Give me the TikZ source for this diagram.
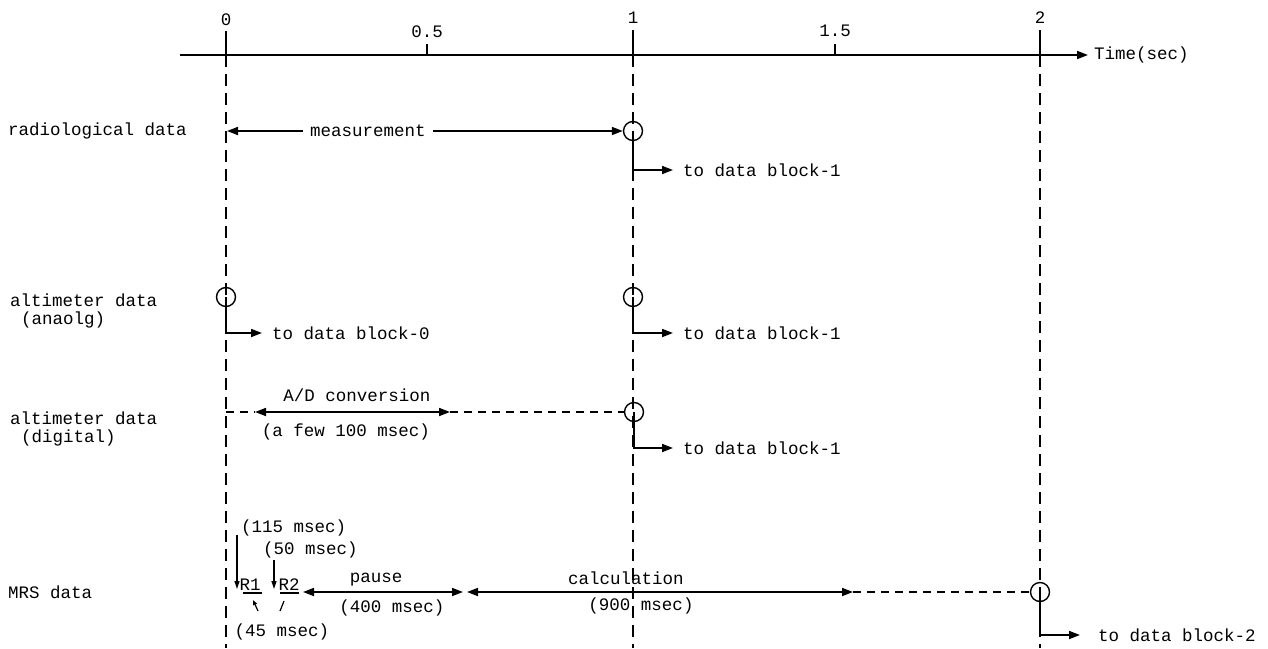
\documentclass[tikz,border=0pt]{standalone}
\usepackage{fontspec}
\setmainfont{Liberation Mono}
\usetikzlibrary{arrows.meta,calc}
\begin{document}
\begin{tikzpicture}[x=1pt,y=-1pt,
  txt/.style={font=\fontsize{17.5}{20}\selectfont, inner sep=0pt},
  ln/.style={line width=1.7pt},
  thinln/.style={line width=1.3pt},
  gridline/.style={line width=1.6pt, dash pattern=on 12pt off 7pt},
  hdash/.style={line width=1.6pt, dash pattern=on 8pt off 6pt},
  tip/.style={-{Triangle[length=11pt,width=8pt]}},
  smalltip/.style={-{Triangle[length=8pt,width=5pt]}},
  both/.style={{Triangle[length=11pt,width=8pt]}-{Triangle[length=11pt,width=8pt]}},
  probe/.style={circle, draw, line width=1.4pt, minimum size=19pt, inner sep=0pt}]
\useasboundingbox (0,0) rectangle (1268,648);

% time axis
\coordinate (axS) at (180,55);
\coordinate (axE) at (1088,55);
\draw[ln,tip] (axS) -- (axE);
\node[txt,anchor=west] (tlab) at (1094,55) {Time(sec)};

% ticks and scale labels
\node[txt] (l0)  at (226,20) {0};
\node[txt] (l05) at (427,32) {0.5};
\node[txt] (l1)  at (633,18) {1};
\node[txt] (l15) at (835,31) {1.5};
\node[txt] (l2)  at (1040,18) {2};
\coordinate (k0) at (226,55);
\coordinate (k05) at (427,55);
\coordinate (k1) at (633,55);
\coordinate (k15) at (835,55);
\coordinate (k2) at (1040,55);
\draw[ln] (k0) -- ++(0,-24);
\draw[ln] (k05) -- ++(0,-11);
\draw[ln] (k1) -- ++(0,-25);
\draw[ln] (k15) -- ++(0,-11);
\draw[ln] (k2) -- ++(0,-25);

% time grid lines
\coordinate (b0) at (226,648);
\coordinate (b1) at (633,648);
\coordinate (b2) at (1040,648);
\draw[gridline] (k0) -- (b0);
\draw[gridline] (k1) -- (b1);
\draw[gridline] (k2) -- (b2);

% row labels
\node[txt,anchor=west] (rrad) at (8,131) {radiological data};
\node[txt,anchor=west] (ran1) at (10,300) {altimeter data};
\node[txt,anchor=west] (ran2) at (21,320) {(anaolg)};
\node[txt,anchor=west] (rdg1) at (10,418) {altimeter data};
\node[txt,anchor=west] (rdg2) at (21,438) {(digital)};
\node[txt,anchor=west] (rmrs) at (8,592) {MRS data};

% sampling points
\node[probe] (crad) at (633,131) {};
\node[probe] (can0) at (226,297) {};
\node[probe] (can1) at (633,297) {};
\node[probe] (cdig) at (634,412) {};
\node[probe] (cmrs) at (1040,592) {};

% transfers to data blocks
\node[txt,anchor=west] (brad) at (683,170) {to data block-1};
\node[txt,anchor=west] (ban0) at (272,333) {to data block-0};
\node[txt,anchor=west] (ban1) at (683,333) {to data block-1};
\node[txt,anchor=west] (bdig) at (683,448) {to data block-1};
\node[txt,anchor=west] (bmrs) at (1098,635) {to data block-2};
\draw[ln,tip] (crad.center) |- ([xshift=-10pt]brad.west);
\draw[ln,tip] (can0.center) |- ([xshift=-10pt]ban0.west);
\draw[ln,tip] (can1.center) |- ([xshift=-10pt]ban1.west);
\draw[ln,tip] (cdig.center) |- ([xshift=-10pt]bdig.west);
\draw[ln,tip] (cmrs.center) |- ([xshift=-18pt]bmrs.west);

% radiological measurement
\node[txt] (meas) at (368,131) {measurement};
\coordinate (r0) at (227,131);
\draw[ln,tip] ([xshift=-7pt]meas.west) -- (r0);
\draw[ln,tip] ([xshift=7pt]meas.east) -- (crad.west);

% A/D conversion
\coordinate (d0) at (226,412);
\coordinate (dL) at (255,412);
\coordinate (dR) at (450,412);
\draw[hdash] (d0) -- (dL);
\draw[ln,both] (dL) -- (dR);
\draw[hdash] (dR) -- (cdig.west);
\node[txt] (adc) at (357,395) {A/D conversion};
\node[txt] (few) at (346,432) {(a few 100 msec)};

% MRS sequence
\node[txt,anchor=west] (n115) at (241,528) {(115 msec)};
\node[txt,anchor=west] (n50) at (263,550) {(50 msec)};
\node[txt] (rone) at (250,585) {R1};
\node[txt] (rtwo) at (289,585) {R2};
\coordinate (a1s) at (237,535);
\coordinate (a1e) at (237,589);
\coordinate (a2s) at (274,560);
\coordinate (a2e) at (274,589);
\draw[thinln,smalltip] (a1s) -- (a1e);
\draw[thinln,smalltip] (a2s) -- (a2e);
\coordinate (u1s) at (243,593);
\coordinate (u1e) at (262,593);
\coordinate (u2s) at (280,593);
\coordinate (u2e) at (299,593);
\draw[thinln] (u1s) -- (u1e);
\draw[thinln] (u2s) -- (u2e);
\coordinate (s1s) at (258,611);
\coordinate (s1e) at (253,600);
\coordinate (s2s) at (280,611);
\coordinate (s2e) at (284,601);
\draw[line width=1.2pt,-{Triangle[length=5pt,width=4pt]}] (s1s) -- (s1e);
\draw[line width=1.2pt] (s2s) -- (s2e);
\node[txt] (n45) at (282,632) {(45 msec)};

\coordinate (pL) at (303,592);
\coordinate (pR) at (463,592);
\coordinate (qL) at (467,592);
\coordinate (qR) at (853,592);
\draw[ln,both] (pL) -- (pR);
\draw[ln,both] (qL) -- (qR);
\draw[hdash] (qR) -- (cmrs.west);
\node[txt] (pau) at (376,580) {pause};
\node[txt] (n400) at (392,608) {(400 msec)};
\node[txt] (calc) at (626,578) {calculation};
\node[txt] (n900) at (641,606) {(900 msec)};
\end{tikzpicture}
\end{document}
